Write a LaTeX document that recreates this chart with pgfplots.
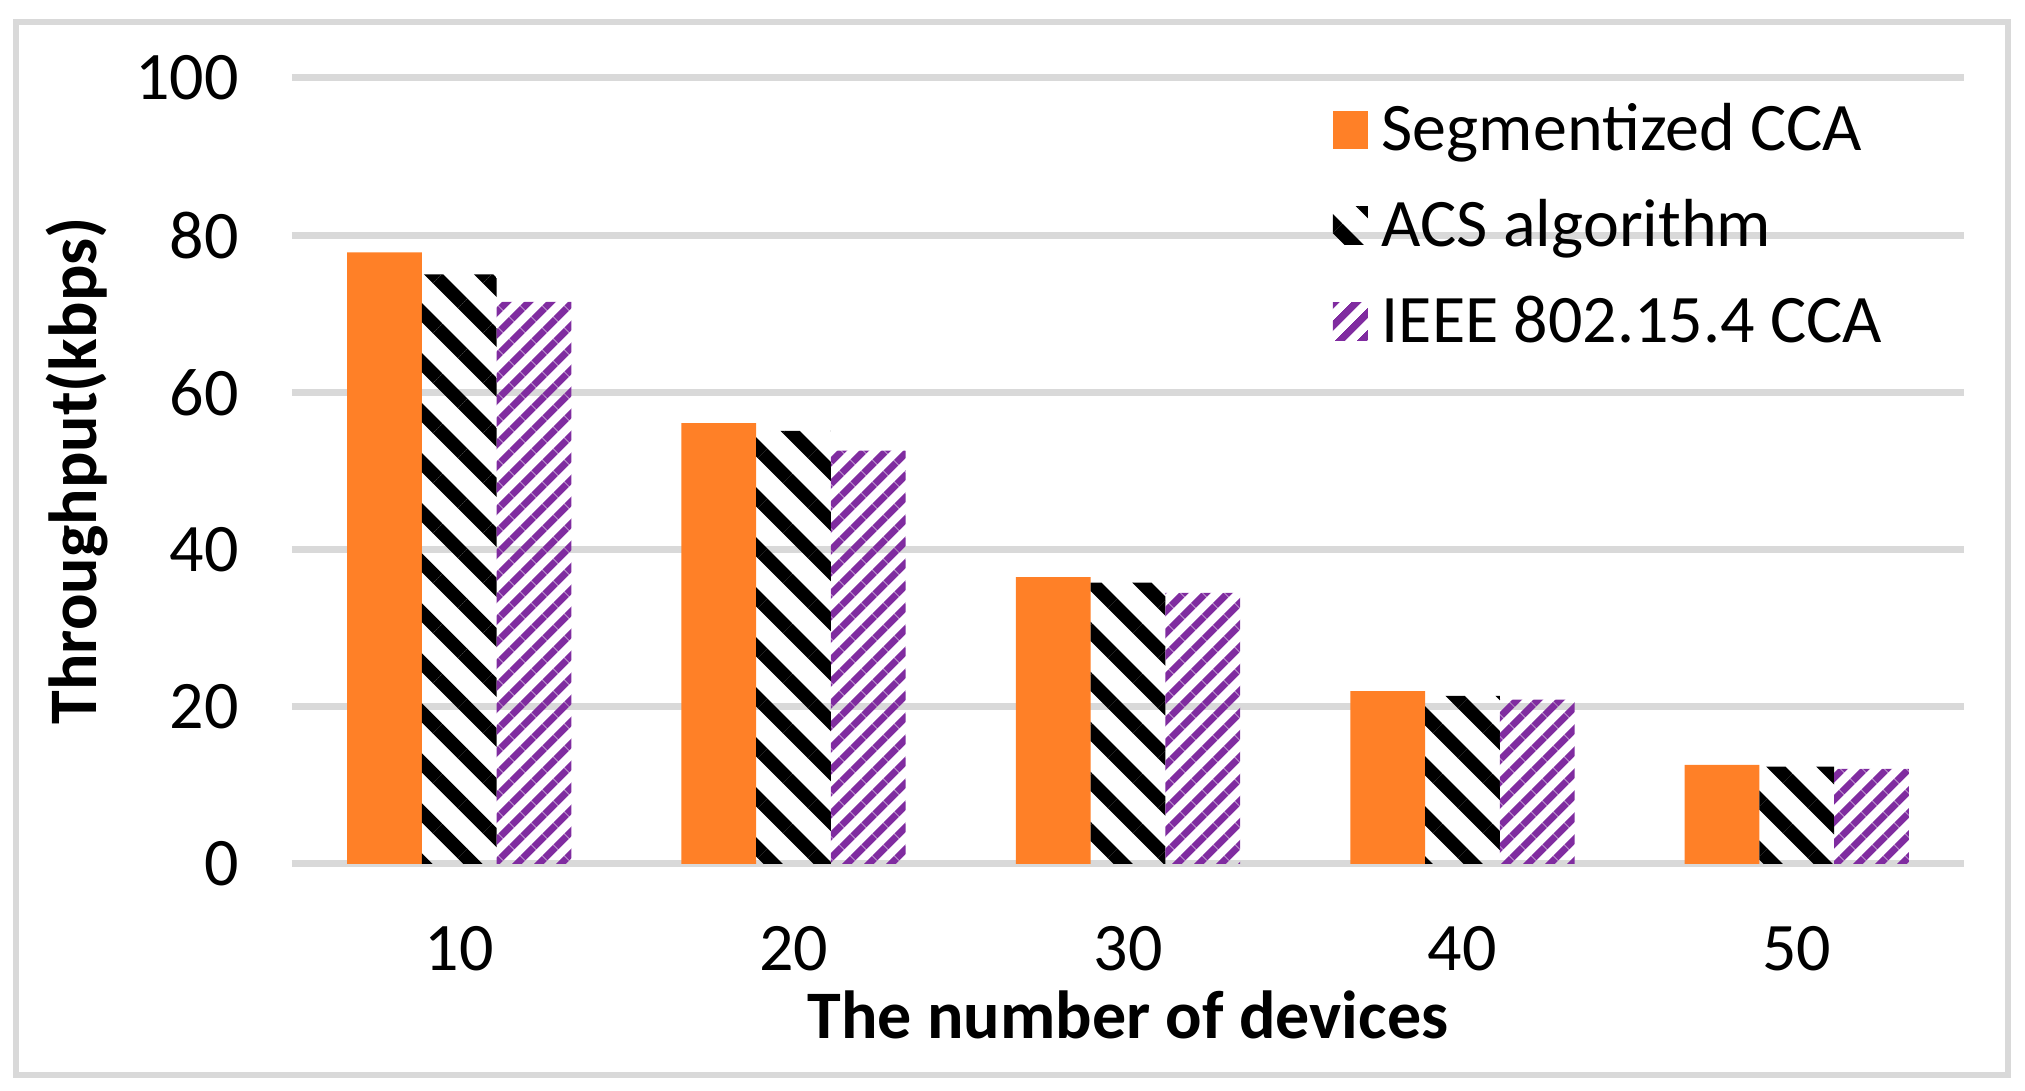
\documentclass[border=0pt]{standalone}
\usepackage{fontspec}
\setmainfont{Carlito}
\usepackage{pgfplots}
\pgfplotsset{compat=1.18}
\usetikzlibrary{patterns.meta}
\definecolor{segorange}{RGB}{255,128,39}
\definecolor{ieeepurple}{RGB}{128,44,160}
\definecolor{gridgray}{RGB}{217,217,217}
\newcommand{\chartfont}{\fontsize{17}{20}\selectfont}
\begin{document}
\begin{tikzpicture}
\path[use as bounding box] (-73pt,-56.75pt) rectangle (433.25pt,216pt);
\begin{axis}[
  ybar=0pt,
  scale only axis,
  width=418pt, height=196.5pt,
  xmin=-0.5, xmax=4.5,
  ymin=0, ymax=100,
  xtick={0,1,2,3,4},
  xticklabels={10,20,30,40,50},
  ytick={0,20,40,60,80,100},
  bar width=0.2235,
  axis line style={draw=none},
  major tick length=0pt,
  ymajorgrids=true,
  grid style={gridgray, line width=1.75pt},
  /pgf/number format/assume math mode=true,
  tick label style={font=\chartfont},
  yticklabel style={xshift=-9.75pt},
  xticklabel style={yshift=-12pt},
  xlabel={The number of devices},
  ylabel={Throughput(kbps)},
  label style={font=\bfseries\chartfont},
  xlabel style={at={(axis description cs:0.5,-0.192)}, anchor=center},
  ylabel style={at={(axis description cs:-0.1287,0.5)}, anchor=center, rotate=0},
  legend style={
    at={(axis description cs:0.622,0.9696)}, anchor=north west,
    draw=none, fill=none, inner sep=0pt,
    font=\chartfont,
    row sep=8pt, column sep=3.5pt,
    nodes={inner sep=0pt, text height=12pt, text depth=4pt},
    cells={anchor=base west},
  },
  legend image code/.code={\path[#1, draw=none] (0pt,0.5pt) rectangle (8.75pt,10pt);},
]
\addplot[fill=segorange, draw=none, bar shift=-0.2235] coordinates {
  (0,77.8) (1,56.1) (2,36.5) (3,22.0) (4,12.6)
};
\addlegendentry{Segmentized CCA}
\addplot[pattern={Lines[angle=-45, distance=8.84pt, line width=3.4pt]}, pattern color=black, draw=none, bar shift=0] coordinates {
  (0,75.0) (1,55.1) (2,35.8) (3,21.4) (4,12.4)
};
\addlegendentry{ACS algorithm}
\addplot[pattern={Lines[angle=45, distance=4pt, line width=1.9pt]}, pattern color=ieeepurple, draw=none, bar shift=0.2235] coordinates {
  (0,71.5) (1,52.6) (2,34.5) (3,20.9) (4,12.1)
};
\addlegendentry{IEEE 802.15.4 CCA}
\end{axis}
\draw[gridgray, line width=1.5pt] (-69.1pt,-52.75pt) rectangle (429pt,210.5pt);
\end{tikzpicture}
\end{document}
